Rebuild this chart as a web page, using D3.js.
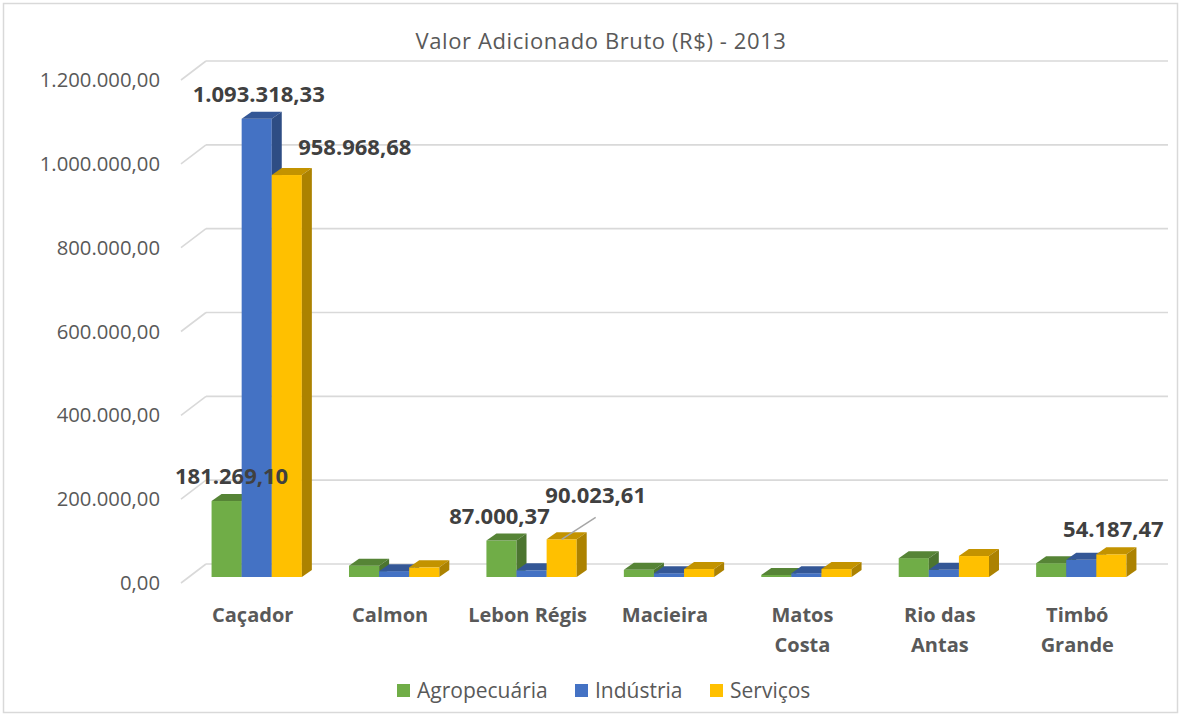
<!DOCTYPE html>
<html>
<head>
<meta charset="utf-8">
<script src="https://cdn.jsdelivr.net/npm/d3@7"></script>
<style>
  body { margin: 0; background: #fff; }
  text { font-family: "Open Sans", "Noto Sans", sans-serif; }
</style>
</head>
<body>
<svg id="chart" width="1182" height="717"></svg>
<script>
// dados
const categorias = ["Caçador", "Calmon", "Lebon Régis", "Macieira", "Matos Costa", "Rio das Antas", "Timbó Grande"];
const rotulosCat = [["Caçador"], ["Calmon"], ["Lebon Régis"], ["Macieira"], ["Matos", "Costa"], ["Rio das", "Antas"], ["Timbó", "Grande"]];
const series = ["Agropecuária", "Indústria", "Serviços"];
const agropecuaria = [181269.10, 27000, 87000.37, 17000, 5000, 45000, 33000];
const industria = [1093318.33, 14000, 16000, 9000, 9000, 17000, 41000];
const servicos = [958968.68, 23000, 90023.61, 19000, 19000, 50000, 54187.47];
const ticks = [0, 200000, 400000, 600000, 800000, 1000000, 1200000];
const cores = ["#70AD47", "#4472C4", "#FFC000"];
// which bars carry a data label: [category, series]
const comRotulo = [[0, 0], [0, 1], [0, 2], [2, 0], [2, 2], [6, 2]];

const valores = [agropecuaria, industria, servicos];
const fmt = v => v.toLocaleString("pt-BR", {minimumFractionDigits: 2, maximumFractionDigits: 2});

const svg = d3.select("#chart");
const cinza = "#595959";

// moldura
svg.append("rect").attr("x", 3.5).attr("y", 3.5).attr("width", 1174).attr("height", 709)
  .attr("fill", "none").attr("stroke", "#d9d9d9").attr("stroke-width", 1.5);

svg.append("text").attr("x", 601).attr("y", 49).attr("text-anchor", "middle")
  .attr("font-size", 22).attr("letter-spacing", 0.6).attr("fill", cinza)
  .text("Valor Adicionado Bruto (R$) - 2013");

const y = d3.scaleLinear().domain([0, 1200000]).range([577, 74]);
const x = d3.scaleBand().domain(categorias).range([188, 1150]).paddingInner(0.343).paddingOuter(0.1715);
const xs = d3.scaleBand().domain(series).range([0, x.bandwidth()]);

// deslocamentos 3D
const back = {dx: 18, dy: -13};
const front = {dx: -7, dy: 6};
const prof = {dx: 10, dy: -7};

// grade
const g = svg.append("g");
ticks.forEach(t => {
  const yy = y(t);
  g.append("line").attr("x1", 188 + back.dx).attr("x2", 1150 + back.dx)
    .attr("y1", yy + back.dy).attr("y2", yy + back.dy)
    .attr("stroke", "#d9d9d9").attr("stroke-width", 1.6);
  g.append("line").attr("x1", 188 + front.dx).attr("y1", yy + front.dy)
    .attr("x2", 188 + back.dx).attr("y2", yy + back.dy)
    .attr("stroke", "#d9d9d9").attr("stroke-width", 1.6);
  g.append("text").attr("x", 160).attr("y", yy + front.dy).attr("dy", "0.35em")
    .attr("text-anchor", "end").attr("font-size", 20.3).attr("fill", cinza)
    .text(fmt(t));
});

// barras
const bars = svg.append("g");
categorias.forEach((c, i) => {
  series.forEach((s, j) => {
    const v = valores[j][i];
    const x0 = x(c) + xs(s), w = xs.bandwidth();
    const yt = y(v), yb = y(0);
    const cor = d3.color(cores[j]);
    bars.append("rect").attr("x", x0).attr("y", yt).attr("width", w).attr("height", yb - yt)
      .attr("fill", cor);
    bars.append("polygon").attr("points", [
      [x0, yt], [x0 + prof.dx, yt + prof.dy], [x0 + w + prof.dx, yt + prof.dy], [x0 + w, yt]
    ].join(" ")).attr("fill", cor.darker(0.75));
    bars.append("polygon").attr("points", [
      [x0 + w, yt], [x0 + w + prof.dx, yt + prof.dy], [x0 + w + prof.dx, yb + prof.dy], [x0 + w, yb]
    ].join(" ")).attr("fill", cor.darker(1.1));
  });
});

// rótulos de dados (ajustes manuais como no original)
const ajuste = {"0-1": [-3, 0], "0-2": [63, -3], "2-0": [-7, 0], "2-2": [29, -19], "6-2": [-3, 0]};
comRotulo.forEach(([i, j]) => {
  const v = valores[j][i];
  const x0 = x(categorias[i]) + xs(series[j]);
  const cx = x0 + xs.bandwidth() / 2 + prof.dx / 2;
  const by = y(v) + prof.dy - 10;
  const a = ajuste[i + "-" + j] || [0, 0];
  if (a[1] < -10) {
    svg.append("line").attr("x1", x0 + xs.bandwidth() / 2).attr("y1", y(v))
      .attr("x2", cx + a[0]).attr("y2", by + a[1] + 14)
      .attr("stroke", "#a6a6a6").attr("stroke-width", 1.5);
  }
  svg.append("text").attr("x", cx + a[0]).attr("y", by + a[1])
    .attr("text-anchor", "middle").attr("font-size", 22).attr("font-weight", "bold")
    .attr("fill", "#404040").text(fmt(v));
});

// categorias
categorias.forEach((c, i) => {
  const cx = x(c) + x.bandwidth() / 2 - 4;
  const t = svg.append("text").attr("x", cx).attr("y", 622)
    .attr("text-anchor", "middle").attr("font-size", 20).attr("font-weight", "bold").attr("fill", cinza);
  rotulosCat[i].forEach((l, k) => t.append("tspan").attr("x", cx)
    .attr("dy", k ? 30 : 0).text(l));
});

// legenda
const leg = svg.append("g");
const legX = [397, 575, 710];
series.forEach((s, j) => {
  leg.append("rect").attr("x", legX[j]).attr("y", 684).attr("width", 13).attr("height", 13).attr("fill", cores[j]);
  leg.append("text").attr("x", legX[j] + 20).attr("y", 691).attr("dy", "0.35em")
    .attr("font-size", 21).attr("fill", cinza).text(s);
});
</script>
</body>
</html>
